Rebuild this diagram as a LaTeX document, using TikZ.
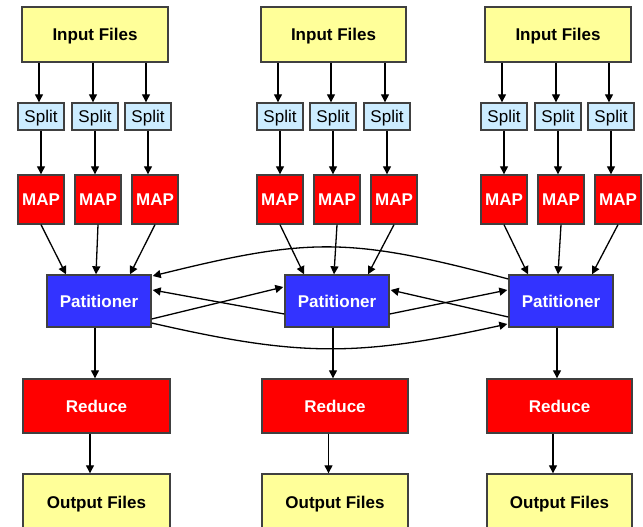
\documentclass[tikz,border=0pt]{standalone}
\usepackage{fontspec}
\setmainfont{Liberation Sans}
\usetikzlibrary{arrows.meta,calc}
\definecolor{fyellow}{HTML}{FFFF99}
\definecolor{fblue}{HTML}{CCECFF}
\definecolor{fred}{HTML}{FF0000}
\definecolor{fpart}{HTML}{3333FF}
\definecolor{bord}{HTML}{404040}
\tikzset{
  box/.style={draw=bord, line width=1.4pt, inner sep=0pt, text height=12.3pt, text depth=0pt, font=\fontsize{17}{20}\selectfont},
  filebox/.style={box, fill=fyellow, minimum width=146pt, minimum height=55pt, font=\fontsize{17}{20}\selectfont\bfseries},
  splitbox/.style={box, fill=fblue, minimum width=46pt, minimum height=27pt},
  mapbox/.style={box, fill=fred, minimum width=46pt, minimum height=49pt, text=white, font=\fontsize{17}{20}\selectfont\bfseries},
  partbox/.style={box, fill=fpart, minimum width=104pt, minimum height=52pt, text=white, font=\fontsize{17}{20}\selectfont\bfseries},
  redbox/.style={box, fill=fred, minimum width=146pt, minimum height=54pt, text=white, font=\fontsize{17}{20}\selectfont\bfseries},
  conn/.style={draw=black, line width=1.3pt, -{Triangle[length=8pt,width=8pt]}},
}
\begin{document}
\begin{tikzpicture}[x=1pt,y=-1pt]
\useasboundingbox (0,0) rectangle (643,527);
\clip (0,0) rectangle (643,527);
\fill[white] (0,0) rectangle (643,527);
% column 1
\node[filebox] (in1) at (95,34.5) {Input Files};
\node[splitbox] (sp11) at (41,116.5) {Split};
\node[splitbox] (sp12) at (95,116.5) {Split};
\node[splitbox] (sp13) at (148,116.5) {Split};
\node[mapbox] (m11) at (41,199.5) {MAP};
\node[mapbox] (m12) at (98,199.5) {MAP};
\node[mapbox] (m13) at (155,199.5) {MAP};
\node[partbox] (p1) at (99,301) {Patitioner};
\node[redbox, minimum width=147pt] (r1) at (96.5,406) {Reduce};
\node[filebox, minimum width=147pt, minimum height=56pt] (o1) at (96.5,502) {Output Files};
% column 2
\node[filebox, minimum width=145pt] (in2) at (333.5,34.5) {Input Files};
\node[splitbox] (sp21) at (280,116.5) {Split};
\node[splitbox] (sp22) at (333,116.5) {Split};
\node[splitbox] (sp23) at (387,116.5) {Split};
\node[mapbox] (m21) at (280,199.5) {MAP};
\node[mapbox] (m22) at (337,199.5) {MAP};
\node[mapbox] (m23) at (394,199.5) {MAP};
\node[partbox] (p2) at (337,301) {Patitioner};
\node[redbox] (r2) at (335,406) {Reduce};
\node[filebox, minimum height=56pt] (o2) at (335,502) {Output Files};
% column 3
\node[filebox] (in3) at (558,34.5) {Input Files};
\node[splitbox] (sp31) at (504,116.5) {Split};
\node[splitbox] (sp32) at (558,116.5) {Split};
\node[splitbox] (sp33) at (611,116.5) {Split};
\node[mapbox] (m31) at (504,199.5) {MAP};
\node[mapbox] (m32) at (561,199.5) {MAP};
\node[mapbox] (m33) at (618,199.5) {MAP};
\node[partbox] (p3) at (561,301) {Patitioner};
\node[redbox, minimum width=145pt] (r3) at (559.5,406) {Reduce};
\node[filebox, minimum width=145pt, minimum height=56pt] (o3) at (559.5,502) {Output Files};
% vertical connectors
\foreach \c in {1,2,3}{
  \foreach \s in {1,2,3}{
    \draw[conn] ([xshift=-2pt]in\c.south -| sp\c\s.north) -- ([xshift=-2pt]sp\c\s.north);
    \draw[conn] (sp\c\s.south) -- (sp\c\s.south |- m\c\s.north);
  }
  \draw[conn] (m\c1.south) -- ($(p\c.north)+(-33,0)$);
  \draw[conn] (m\c2.south) -- ($(p\c.north)+(-3,0)$);
  \draw[conn] (m\c3.south) -- ($(p\c.north)+(31,0)$);
  \draw[conn] ([xshift=-4pt]p\c.south) -- ([xshift=-4pt]p\c.south |- r\c.north);
  \draw[conn] ([xshift=-6.5pt]r\c.south) -- ([xshift=-6.5pt]r\c.south |- o\c.north);
}
% cross connectors
\draw[conn] ($(p3.west)+(0,-22)$) .. controls (350,237) and (310,237) .. ($(p1.east)+(1,-25)$);
\draw[conn] ($(p1.east)+(0,22)$) .. controls (300,357) and (357,357) .. ($(p3.west)+(-1,23)$);
\draw[conn] ($(p1.east)+(0,18)$) -- ($(p2.west)+(-1,-14)$);
\draw[conn] ($(p2.west)+(0,13)$) -- ($(p1.east)+(1,-11)$);
\draw[conn] ($(p2.east)+(0,13)$) -- ($(p3.west)+(-1,-11)$);
\draw[conn] ($(p3.west)+(0,16)$) -- ($(p2.east)+(1,-11)$);
\end{tikzpicture}
\end{document}
